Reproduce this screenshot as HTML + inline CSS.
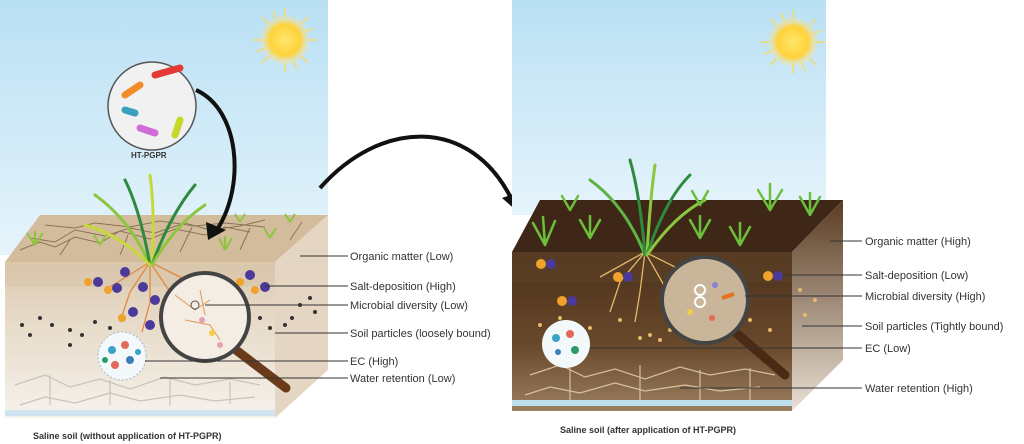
<!DOCTYPE html>
<html><head><meta charset="utf-8"><style>
html,body{margin:0;padding:0;background:#fff}
svg{display:block}
text{font-family:"Liberation Sans",sans-serif;fill:#333}
</style></head><body>
<svg width="1024" height="444" viewBox="0 0 1024 444" xmlns="http://www.w3.org/2000/svg">
<defs>
<linearGradient id="sky" x1="0" y1="0" x2="0" y2="1"><stop offset="0" stop-color="#b9e0f4"/><stop offset="1" stop-color="#e6f4fb"/></linearGradient>
<linearGradient id="lf" x1="0" y1="0" x2="0" y2="1"><stop offset="0" stop-color="#ddcbb2"/><stop offset="0.5" stop-color="#eadfcf"/><stop offset="1" stop-color="#f6f2ec"/></linearGradient>
<linearGradient id="rf" x1="0" y1="0" x2="0" y2="1"><stop offset="0" stop-color="#4a2f1a"/><stop offset="0.6" stop-color="#6a4a2c"/><stop offset="1" stop-color="#9c7f60"/></linearGradient>
<linearGradient id="rs" x1="0" y1="0" x2="0" y2="1"><stop offset="0" stop-color="#5a3c22"/><stop offset="1" stop-color="#e9e0d4"/></linearGradient>
<radialGradient id="sun"><stop offset="0" stop-color="#ffe66a"/><stop offset="0.6" stop-color="#ffd23a"/><stop offset="1" stop-color="#ffe9a0" stop-opacity="0"/></radialGradient>
</defs>
<!-- LEFT -->
<rect x="0" y="0" width="328" height="255" fill="url(#sky)"/>
<g stroke="#ffd84a" stroke-width="1.5" opacity="0.8" transform="translate(285,40)">
<line x1="0" y1="-32" x2="0" y2="-22"/><line x1="0" y1="22" x2="0" y2="32"/><line x1="-32" y1="0" x2="-22" y2="0"/><line x1="22" y1="0" x2="32" y2="0"/>
<line x1="-23" y1="-23" x2="-16" y2="-16"/><line x1="16" y1="16" x2="23" y2="23"/><line x1="-23" y1="23" x2="-16" y2="16"/><line x1="16" y1="-16" x2="23" y2="-23"/>
<line x1="-12" y1="-29" x2="-8" y2="-20"/><line x1="12" y1="29" x2="8" y2="20"/><line x1="29" y1="-12" x2="20" y2="-8"/><line x1="-29" y1="12" x2="-20" y2="8"/>
</g>
<circle cx="285" cy="40" r="26" fill="url(#sun)"/>
<polygon points="5,262 40,215 328,215 275,262" fill="#d3bc9c"/>
<g stroke="#7a6047" stroke-width="1" fill="none" opacity="0.8">
<path d="M20,250 l20,-8 l15,5 l20,-10 l25,6 l20,-12 l30,8 l25,-10 l30,6 l20,-8 l25,5"/>
<path d="M30,238 l25,4 l20,-12 l30,6 l25,-8 l25,5 l30,-10 l25,7 l30,-4 l25,-6"/>
<path d="M45,225 l30,3 l20,-5 l35,4 l30,-6 l35,5 l30,-3 l40,4"/>
<path d="M60,255 l10,-15 M120,255 l8,-20 M180,252 l12,-25 M240,250 l10,-22 M290,240 l12,-18"/>
</g>
<polygon points="275,262 328,215 328,370 275,418" fill="#e4d6c3"/>
<rect x="5" y="262" width="270" height="156" fill="url(#lf)"/>
<rect x="5" y="262" width="270" height="25" fill="#d8c6ab" opacity="0.7"/>
<g stroke="#c9c3bd" stroke-width="1.2" fill="none">
<path d="M15,385 l30,-10 l25,12 l30,-8 l30,10 l35,-12 l30,8 l35,-6 l30,6"/>
<path d="M20,405 l25,-8 l30,6 l35,-10 l30,8 l40,-6 l35,6 l40,-4"/>
<path d="M50,375 v30 M110,380 v25 M170,378 v28 M230,382 v22"/>
</g>
<rect x="5" y="410" width="270" height="6" fill="#cfe4f0"/>
<g stroke="#e08a3c" stroke-width="1.3" fill="none">
<path d="M150,262 l-20,30 l-10,30 M150,262 l0,40 l-8,30 M150,262 l20,30 l15,25 M150,262 l-40,25 M150,262 l40,20"/>
</g>
<g fill="#4b3a9a">
<circle cx="125" cy="272" r="5"/><circle cx="98" cy="282" r="5"/><circle cx="117" cy="288" r="5"/><circle cx="143" cy="287" r="5"/><circle cx="155" cy="300" r="5"/><circle cx="133" cy="312" r="5"/><circle cx="150" cy="325" r="5"/><circle cx="250" cy="275" r="5"/><circle cx="265" cy="287" r="5"/></g>
<g fill="#f0a22a"><circle cx="88" cy="282" r="4"/><circle cx="108" cy="290" r="4"/><circle cx="122" cy="318" r="4"/><circle cx="240" cy="282" r="4"/><circle cx="255" cy="290" r="4"/></g>
<g fill="#333">
<circle cx="22" cy="325" r="2"/><circle cx="40" cy="318" r="2"/><circle cx="52" cy="325" r="2"/><circle cx="30" cy="335" r="2"/><circle cx="70" cy="330" r="2"/><circle cx="95" cy="322" r="2"/><circle cx="82" cy="335" r="2"/><circle cx="110" cy="328" r="2"/><circle cx="260" cy="318" r="2"/><circle cx="270" cy="328" r="2"/><circle cx="300" cy="305" r="2"/><circle cx="310" cy="298" r="2"/><circle cx="292" cy="318" r="2"/><circle cx="315" cy="312" r="2"/><circle cx="285" cy="325" r="2"/><circle cx="70" cy="345" r="2"/></g>
<g stroke-width="3" fill="none" stroke-linecap="round">
<path d="M150,265 Q130,220 95,195" stroke="#8cc63f"/><path d="M150,265 Q140,210 125,180" stroke="#2e8b3e"/><path d="M152,265 Q155,210 150,175" stroke="#c7d93a"/><path d="M152,265 Q170,215 195,185" stroke="#2e8b3e"/><path d="M152,265 Q175,225 205,205" stroke="#8cc63f"/><path d="M150,265 Q120,235 85,225" stroke="#c7d93a"/>
</g>
<g stroke="#8cc63f" stroke-width="2" fill="none">
<path d="M35,245 l-8,-12 M35,245 l0,-14 M35,245 l8,-12"/><path d="M100,245 l-6,-10 M100,245 l6,-10"/><path d="M225,250 l-6,-12 M225,250 l0,-14 M225,250 l7,-12"/><path d="M270,238 l-6,-10 M270,238 l6,-10"/><path d="M290,222 l-5,-8 M290,222 l5,-8"/><path d="M240,222 l-5,-8 M240,222 l5,-8"/>
</g>
<circle cx="122" cy="356" r="24" fill="#f3f8fb" stroke="#9fb8c8" stroke-dasharray="2 2"/>
<g><circle cx="112" cy="350" r="4" fill="#3aa3c9"/><circle cx="125" cy="345" r="4" fill="#e26a5a"/><circle cx="130" cy="360" r="4" fill="#3a7fb5"/><circle cx="115" cy="365" r="4" fill="#e26a5a"/><circle cx="105" cy="360" r="3" fill="#2a9a6a"/><circle cx="138" cy="352" r="3" fill="#3aa3c9"/></g>
<line x1="236" y1="350" x2="286" y2="388" stroke="#6b3a1a" stroke-width="9" stroke-linecap="round"/>
<circle cx="205" cy="317" r="44" fill="#f4ede3" stroke="#444" stroke-width="4"/>
<g stroke="#e0985a" fill="none"><path d="M175,295 l20,15 l15,-10 M185,320 l25,5 l10,15 M200,290 l5,25"/></g>
<circle cx="195" cy="305" r="4" fill="none" stroke="#555"/><circle cx="202" cy="320" r="3" fill="#e6a0b0"/><circle cx="212" cy="333" r="3" fill="#f0d040"/><circle cx="220" cy="345" r="3" fill="#e6a0b0"/>
<circle cx="152" cy="106" r="44" fill="#f1f1f1" stroke="#555" stroke-width="1.5"/>
<g stroke-width="7" stroke-linecap="round"><line x1="155" y1="75" x2="180" y2="68" stroke="#e53935"/><line x1="125" y1="95" x2="140" y2="85" stroke="#f28c28"/><line x1="180" y1="120" x2="175" y2="135" stroke="#c6d92b"/><line x1="140" y1="128" x2="155" y2="133" stroke="#d16bd8"/><line x1="125" y1="110" x2="135" y2="113" stroke="#3aa0c0"/></g>
<text x="131" y="158" font-size="8" font-weight="bold" fill="#222">HT-PGPR</text>
<path d="M196,90 C240,110 245,185 218,228" stroke="#111" stroke-width="4" fill="none"/>
<polygon points="208,240 206,222 226,230" fill="#111"/>
<path d="M320,188 C380,120 470,115 512,200" stroke="#111" stroke-width="4" fill="none"/>
<polygon points="518,212 502,198 524,190" fill="#111"/>
<g stroke="#333" stroke-width="1">
<line x1="300" y1="256" x2="348" y2="256"/><line x1="265" y1="286" x2="348" y2="286"/><line x1="205" y1="305" x2="348" y2="305"/><line x1="275" y1="333" x2="348" y2="333"/><line x1="145" y1="361" x2="348" y2="361"/><line x1="160" y1="378" x2="348" y2="378"/>
</g>
<g font-size="11">
<text x="350" y="260">Organic matter (Low)</text><text x="350" y="290">Salt-deposition (High)</text><text x="350" y="309">Microbial diversity (Low)</text><text x="350" y="337">Soil particles (loosely bound)</text><text x="350" y="365">EC (High)</text><text x="350" y="382">Water retention (Low)</text>
</g>
<text x="33" y="439" font-size="9" font-weight="bold" fill="#222">Saline soil (without application of HT-PGPR)</text>
<!-- RIGHT -->
<rect x="512" y="0" width="314" height="215" fill="url(#sky)"/>
<g stroke="#ffd84a" stroke-width="1.5" opacity="0.8" transform="translate(793,42)">
<line x1="0" y1="-32" x2="0" y2="-22"/><line x1="0" y1="22" x2="0" y2="32"/><line x1="-32" y1="0" x2="-22" y2="0"/><line x1="22" y1="0" x2="32" y2="0"/>
<line x1="-23" y1="-23" x2="-16" y2="-16"/><line x1="16" y1="16" x2="23" y2="23"/><line x1="-23" y1="23" x2="-16" y2="16"/><line x1="16" y1="-16" x2="23" y2="-23"/>
<line x1="-12" y1="-29" x2="-8" y2="-20"/><line x1="12" y1="29" x2="8" y2="20"/><line x1="29" y1="-12" x2="20" y2="-8"/><line x1="-29" y1="12" x2="-20" y2="8"/>
</g>
<circle cx="793" cy="42" r="26" fill="url(#sun)"/>
<polygon points="512,252 540,200 843,200 792,252" fill="#3e2716"/>
<polygon points="792,252 843,200 843,360 792,411" fill="url(#rs)"/>
<rect x="512" y="252" width="280" height="159" fill="url(#rf)"/>
<rect x="512" y="252" width="280" height="30" fill="#5a3e26" opacity="0.8"/>
<g stroke="#e8d8b8" stroke-width="1.2" fill="none" opacity="0.8">
<path d="M530,375 l30,-10 l25,12 l30,-8 l30,10 l35,-12 l30,8 l35,-6 l30,6"/>
<path d="M525,395 l25,-8 l30,6 l35,-10 l30,8 l40,-6 l35,6 l40,-4"/>
<path d="M570,368 v35 M640,365 v38 M700,370 v30 M750,368 v35"/>
</g>
<rect x="512" y="400" width="280" height="6" fill="#bfe0ee"/>
<g stroke="#e2b86a" stroke-width="1.3" fill="none">
<path d="M645,252 l-25,30 l-10,30 M645,252 l-5,40 l-5,30 M645,252 l20,35 l10,30 M645,252 l-45,25 M645,252 l40,20"/>
</g>
<g><circle cx="541" cy="264" r="5" fill="#f0a22a"/><circle cx="551" cy="264" r="5" fill="#4b3a9a"/><circle cx="618" cy="277" r="5" fill="#f0a22a"/><circle cx="628" cy="277" r="5" fill="#4b3a9a"/><circle cx="562" cy="301" r="5" fill="#f0a22a"/><circle cx="572" cy="301" r="5" fill="#4b3a9a"/><circle cx="768" cy="276" r="5" fill="#f0a22a"/><circle cx="778" cy="276" r="5" fill="#4b3a9a"/></g>
<g fill="#e6b86a"><circle cx="540" cy="325" r="2"/><circle cx="560" cy="318" r="2"/><circle cx="590" cy="328" r="2"/><circle cx="620" cy="320" r="2"/><circle cx="650" cy="335" r="2"/><circle cx="670" cy="330" r="2"/><circle cx="750" cy="320" r="2"/><circle cx="770" cy="330" r="2"/><circle cx="800" cy="290" r="2"/><circle cx="815" cy="300" r="2"/><circle cx="805" cy="315" r="2"/><circle cx="660" cy="340" r="2"/><circle cx="640" cy="338" r="2"/></g>
<g stroke-width="3" fill="none" stroke-linecap="round">
<path d="M645,255 Q625,205 590,180" stroke="#5fb446"/><path d="M645,255 Q640,195 630,160" stroke="#2e8b3e"/><path d="M647,255 Q650,200 655,165" stroke="#8cc63f"/><path d="M647,255 Q665,200 690,175" stroke="#2e8b3e"/><path d="M647,255 Q675,215 705,200" stroke="#8cc63f"/>
</g>
<g stroke="#6cbf3a" stroke-width="2.5" fill="none" stroke-linecap="round">
<path d="M545,245 l-12,-22 M545,245 l-2,-28 M545,245 l10,-24"/><path d="M590,238 l-10,-18 M590,238 l0,-22 M590,238 l10,-18"/><path d="M700,238 l-10,-18 M700,238 l0,-22 M700,238 l10,-18"/><path d="M740,245 l-10,-18 M740,245 l0,-22 M740,245 l10,-18"/><path d="M770,210 l-12,-20 M770,210 l0,-26 M770,210 l12,-20"/><path d="M810,215 l-10,-18 M810,215 l0,-22 M810,215 l10,-18"/><path d="M700,205 l-8,-14 M700,205 l8,-14"/><path d="M570,210 l-8,-14 M570,210 l8,-14"/>
</g>
<circle cx="566" cy="344" r="24" fill="#f3f8fb"/>
<g><circle cx="556" cy="338" r="4" fill="#3aa3c9"/><circle cx="570" cy="334" r="4" fill="#e26a5a"/><circle cx="575" cy="350" r="4" fill="#2a9a6a"/><circle cx="558" cy="352" r="3" fill="#3a7fb5"/></g>
<line x1="735" y1="332" x2="785" y2="375" stroke="#4a2a14" stroke-width="9" stroke-linecap="round"/>
<circle cx="705" cy="300" r="43" fill="#c9b69a" stroke="#444" stroke-width="4"/>
<g><circle cx="700" cy="290" r="5" fill="none" stroke="#fff" stroke-width="2"/><circle cx="700" cy="302" r="5" fill="none" stroke="#fff" stroke-width="2"/><circle cx="715" cy="285" r="3" fill="#8a7fd0"/><circle cx="690" cy="312" r="3" fill="#f0d040"/><circle cx="712" cy="318" r="3" fill="#e26a5a"/><path d="M722,298 l12,-4" stroke="#e8701c" stroke-width="4"/></g>
<g stroke="#333" stroke-width="1">
<line x1="830" y1="241" x2="862" y2="241"/><line x1="782" y1="275" x2="862" y2="275"/><line x1="745" y1="296" x2="862" y2="296"/><line x1="802" y1="326" x2="862" y2="326"/><line x1="590" y1="348" x2="862" y2="348"/><line x1="680" y1="388" x2="862" y2="388"/>
</g>
<g font-size="11">
<text x="865" y="245">Organic matter (High)</text><text x="865" y="279">Salt-deposition (Low)</text><text x="865" y="300">Microbial diversity (High)</text><text x="865" y="330">Soil particles (Tightly bound)</text><text x="865" y="352">EC (Low)</text><text x="865" y="392">Water retention (High)</text>
</g>
<text x="560" y="433" font-size="9" font-weight="bold" fill="#222">Saline soil (after application of HT-PGPR)</text>
</svg>
</body></html>
